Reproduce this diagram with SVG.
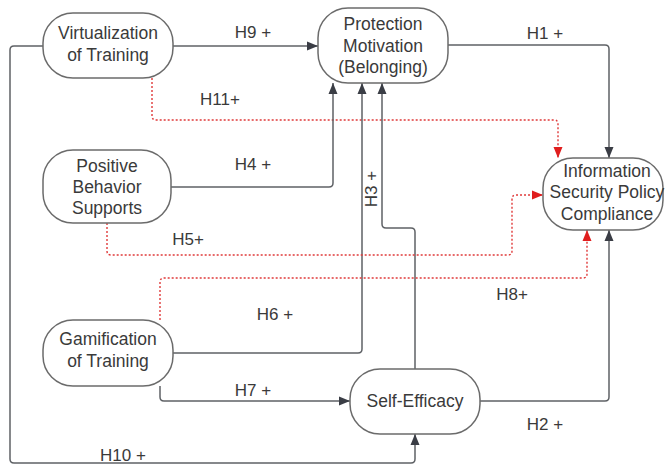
<svg xmlns="http://www.w3.org/2000/svg" width="665" height="466" viewBox="0 0 665 466">
<defs>
<marker id="ah" markerWidth="12" markerHeight="10" refX="11" refY="5" orient="auto" markerUnits="userSpaceOnUse"><path d="M0,0.5 L11,5 L0,9.5 Z" fill="#3a3d45"/></marker>
<marker id="ahr" markerWidth="12" markerHeight="10" refX="11" refY="5" orient="auto" markerUnits="userSpaceOnUse"><path d="M0,0.5 L11,5 L0,9.5 Z" fill="#e01e1e"/></marker>
</defs>
<style>
.n{fill:#fff;stroke:#6b6b6b;stroke-width:1.5}
.t{font-family:"Liberation Sans",Arial,sans-serif;font-size:17.5px;fill:#3a3a3a;text-anchor:middle}
.l{font-family:"Liberation Sans",Arial,sans-serif;font-size:17px;fill:#3a3a3a;text-anchor:middle}
.c{fill:none;stroke:#5f6266;stroke-width:1.5;marker-end:url(#ah)}
.r{fill:none;stroke:#e03a3a;stroke-width:1.4;stroke-dasharray:2 2;marker-end:url(#ahr)}
</style>
<rect width="665" height="466" fill="#fff"/>
<g id="connectors">
<path class="c" d="M173,46 H318"/>
<path class="c" d="M448,45 H605 Q609,45 609,49 V158"/>
<path class="r" d="M152,78 V116 Q152,120 156,120 H554 Q558,120 558,124 V158"/>
<path class="c" d="M43,46 H14 Q10,46 10,50 V459 Q10,463 14,463 H411 Q415,463 415,459 V434"/>
<path class="c" d="M170,187 H329 Q333,187 333,183 V83"/>
<path class="c" d="M173,353 H358 Q362,353 362,349 V83"/>
<path class="c" d="M415,369 V232 Q415,228 411,228 H386 Q382,228 382,224 V83"/>
<path class="c" d="M160,386 V397 Q160,401 164,401 H350"/>
<path class="c" d="M480,401 H605 Q609,401 609,397 V230"/>
<path class="r" d="M107,223 V251 Q107,255 111,255 H508 Q512,255 512,251 V199 Q512,195 516,195 H543"/>
<path class="r" d="M160,320 V282 Q160,278 164,278 H583 Q587,278 587,274 V230"/>
</g>
<g id="virtualization"><rect class="n" x="43" y="13" width="130" height="65" rx="30"/><text class="t" x="108" y="39">Virtualization</text><text class="t" x="108" y="61">of Training</text></g>
<g id="protection"><rect class="n" x="318" y="8" width="130" height="75" rx="30"/><text class="t" x="383" y="30">Protection</text><text class="t" x="383" y="52">Motivation</text><text class="t" x="383" y="73">(Belonging)</text></g>
<g id="positive"><rect class="n" x="43" y="150" width="128" height="73" rx="30"/><text class="t" x="107" y="172">Positive</text><text class="t" x="107" y="193">Behavior</text><text class="t" x="107" y="214">Supports</text></g>
<g id="information"><rect class="n" x="543" y="158" width="120" height="72" rx="30"/><text class="t" x="607" y="177">Information</text><text class="t" x="607" y="198">Security Policy</text><text class="t" x="607" y="220">Compliance</text></g>
<g id="gamification"><rect class="n" x="43" y="320" width="130" height="66" rx="30"/><text class="t" x="108" y="345">Gamification</text><text class="t" x="108" y="367">of Training</text></g>
<g id="selfefficacy"><rect class="n" x="350" y="369" width="130" height="65" rx="30"/><text class="t" x="415" y="407">Self-Efficacy</text></g>
<g id="labels">
<text class="l" x="253" y="38">H9 +</text>
<text class="l" x="545" y="39">H1 +</text>
<text class="l" x="220" y="105">H11+</text>
<text class="l" x="253" y="170">H4 +</text>
<text class="l" x="188" y="245">H5+</text>
<text class="l" x="275" y="320">H6 +</text>
<text class="l" transform="translate(377,189) rotate(-90)">H3 +</text>
<text class="l" x="512" y="300">H8+</text>
<text class="l" x="253" y="396">H7 +</text>
<text class="l" x="545" y="430">H2 +</text>
<text class="l" x="123" y="461">H10 +</text>
</g>
</svg>
